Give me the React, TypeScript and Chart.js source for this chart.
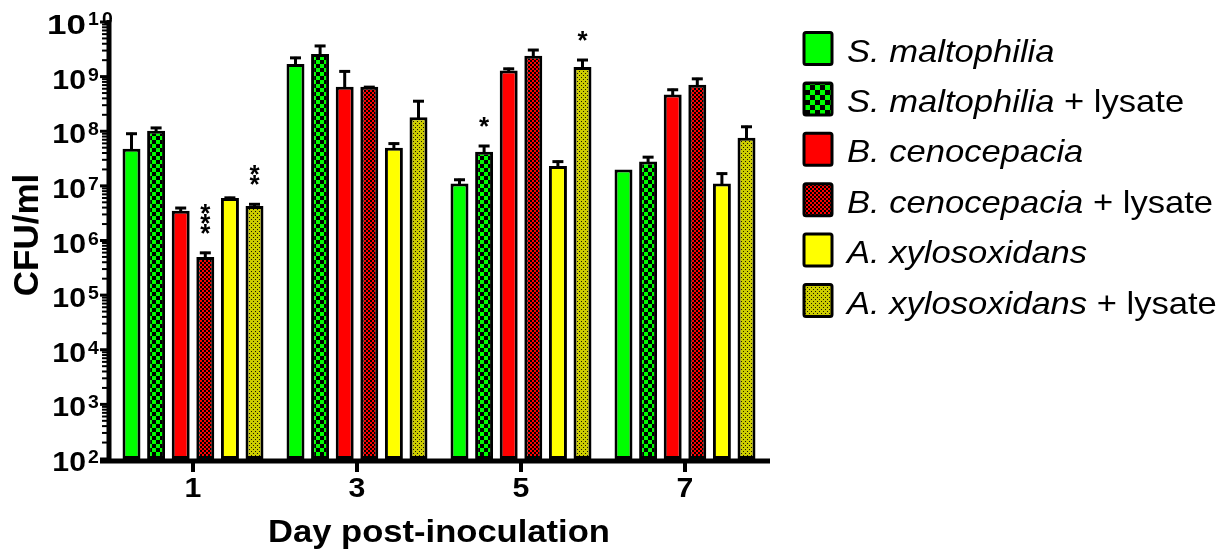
import React, { useEffect, useRef } from "react";
import { Chart, registerables } from "chart.js";

Chart.register(...registerables);

// ---- data ----
const days = ["1", "3", "5", "7"];

const legendItalic = [
  "S. maltophilia",
  "S. maltophilia",
  "B. cenocepacia",
  "B. cenocepacia",
  "A. xylosoxidans",
  "A. xylosoxidans",
];
const legendSuffix = ["", " + lysate", "", " + lysate", "", " + lysate"];

const sMalto = [4.8e7, 1.7e9, 1.1e7, 2.0e7];
const sMaltoSem = [4.6e7, 6.0e8, 2.5e6, 0];
const sMaltoLys = [1.02e8, 2.6e9, 4.2e7, 2.8e7];
const sMaltoLysSem = [1.8e7, 1.2e9, 1.4e7, 7e6];
const bCeno = [3.5e6, 6.5e8, 1.3e9, 4.7e8];
const bCenoSem = [6e5, 6.5e8, 1.5e8, 1.3e8];
const bCenoLys = [5.0e5, 6.5e8, 2.4e9, 7.1e8];
const bCenoLysSem = [1.2e5, 2e7, 8e8, 2.4e8];
const aXylo = [6.0e6, 5.0e7, 2.3e7, 1.1e7];
const aXyloSem = [3e5, 1.2e7, 6e6, 6.5e6];
const aXyloLys = [4.3e6, 1.8e8, 1.5e9, 7.6e7];
const aXyloLysSem = [5e5, 1.9e8, 6e8, 5e7];

const exponents = [2, 3, 4, 5, 6, 7, 8, 9, 10];

// significance marks: series index, day index, number of stars
const starSeries = [3, 5, 1, 5];
const starDay = [0, 0, 2, 2];
const starCount = [3, 2, 1, 1];

const xTitle = "Day post-inoculation";
const yTitle = "CFU/ml";

const means = [sMalto, sMaltoLys, bCeno, bCenoLys, aXylo, aXyloLys];
const sems = [sMaltoSem, sMaltoLysSem, bCenoSem, bCenoLysSem, aXyloSem, aXyloLysSem];

const FONT = '"Liberation Sans", Arial, sans-serif';
const SX = 1.08;

function makePattern(kind: string, cell: number): CanvasPattern | string {
  const c = document.createElement("canvas");
  const g = c.getContext("2d")!;
  if (kind === "greenCheck" || kind === "redCheck") {
    const col = kind === "greenCheck" ? "#00ff00" : "#ff0000";
    c.width = cell * 2;
    c.height = cell * 2;
    g.fillStyle = "#000000";
    g.fillRect(0, 0, cell * 2, cell * 2);
    g.fillStyle = col;
    g.fillRect(0, 0, cell, cell);
    g.fillRect(cell, cell, cell, cell);
  } else {
    c.width = 4;
    c.height = 4;
    g.fillStyle = "#cccc00";
    g.fillRect(0, 0, 4, 4);
    g.fillStyle = "#1a1a00";
    g.fillRect(1, 1, 1, 1);
    g.fillRect(3, 3, 1, 1);
  }
  const p = document.createElement("canvas").getContext("2d")!.createPattern(c, "repeat");
  return p || "#888";
}

function drawText(
  ctx: CanvasRenderingContext2D,
  text: string,
  x: number,
  y: number,
  font: string,
  align: CanvasTextAlign,
  sx = SX
) {
  ctx.save();
  ctx.translate(x, y);
  ctx.scale(sx, 1);
  ctx.font = font;
  ctx.textAlign = align;
  ctx.textBaseline = "alphabetic";
  ctx.fillStyle = "#000";
  ctx.fillText(text, 0, 0);
  ctx.restore();
}

export default function App() {
  const ref = useRef<HTMLCanvasElement | null>(null);

  useEffect(() => {
    document.body.style.margin = "0";
    const canvas = ref.current!;
    const fills = [
      "#00ff00",
      makePattern("greenCheck", 4),
      "#ff0000",
      makePattern("redCheck", 2),
      "#ffff00",
      makePattern("khaki", 0),
    ];
    const legendFills = [
      "#00ff00",
      makePattern("greenCheck", 5),
      "#ff0000",
      makePattern("redCheck", 2),
      "#ffff00",
      makePattern("khaki", 0),
    ];

    const custom = {
      id: "custom",
      afterDatasetsDraw(chart: any) {
        const ctx: CanvasRenderingContext2D = chart.ctx;
        const xs = chart.scales.x;
        const ys = chart.scales.y;
        const area = chart.chartArea;
        ctx.save();
        ctx.strokeStyle = "#000";
        ctx.fillStyle = "#000";

        // error bars
        const errTop: number[][] = [];
        chart.data.datasets.forEach((_ds: any, di: number) => {
          const meta = chart.getDatasetMeta(di);
          errTop[di] = [];
          meta.data.forEach((bar: any, i: number) => {
            const sem = sems[di][i];
            const top = ys.getPixelForValue(means[di][i] + sem);
            errTop[di][i] = top;
            if (!sem) return;
            ctx.lineWidth = 3;
            ctx.lineCap = "butt";
            ctx.beginPath();
            ctx.moveTo(bar.x, bar.y + 1);
            ctx.lineTo(bar.x, top);
            ctx.stroke();
            ctx.beginPath();
            ctx.moveTo(bar.x - 5.5, top + 1);
            ctx.lineTo(bar.x + 5.5, top + 1);
            ctx.stroke();
          });
        });

        // significance stars
        ctx.font = "bold 26px " + FONT;
        const m = ctx.measureText("*");
        const asc = m.actualBoundingBoxAscent;
        const desc = m.actualBoundingBoxDescent;
        starSeries.forEach((si, k) => {
          const bar = chart.getDatasetMeta(si).data[starDay[k]];
          const t = errTop[si][starDay[k]];
          for (let j = 0; j < starCount[k]; j++) {
            const cy = t - 18 - 5 - 10 * j;
            const base = cy + (asc - desc) / 2;
            ctx.textAlign = "center";
            ctx.textBaseline = "alphabetic";
            ctx.fillText("*", bar.x, base);
          }
        });

        // y axis
        const axX = area.left - 2;
        ctx.lineWidth = 5;
        ctx.beginPath();
        ctx.moveTo(axX, area.top - 2);
        ctx.lineTo(axX, area.bottom + 4);
        ctx.stroke();
        // minor ticks
        ctx.lineWidth = 2;
        for (let e = 2; e < 10; e++) {
          for (let mm = 2; mm <= 9; mm++) {
            const py = ys.getPixelForValue(mm * Math.pow(10, e));
            ctx.beginPath();
            ctx.moveTo(axX - 7, py);
            ctx.lineTo(axX, py);
            ctx.stroke();
          }
        }
        // major ticks + labels
        exponents.forEach((e) => {
          const py = ys.getPixelForValue(Math.pow(10, e));
          ctx.lineWidth = 3;
          ctx.beginPath();
          ctx.moveTo(axX - 9, py);
          ctx.lineTo(axX, py);
          ctx.stroke();
          if (e === 10) {
            drawText(ctx, "10", 86, py + 12, "bold 28px " + FONT, "right", 1.25);
            ctx.save();
            (ctx as any).letterSpacing = "3px";
            drawText(ctx, String(e), 88, py + 3, "bold 18px " + FONT, "left");
            ctx.restore();
          } else {
            drawText(ctx, "10", 86, py + 12, "bold 28px " + FONT, "right");
            drawText(ctx, String(e), 88, py + 4, "bold 18px " + FONT, "left");
          }
        });

        // x axis
        const axY = area.bottom + 2;
        ctx.lineWidth = 5;
        ctx.beginPath();
        ctx.moveTo(area.left - 11, axY);
        ctx.lineTo(area.right + 3, axY);
        ctx.stroke();
        days.forEach((d, i) => {
          const px = xs.getPixelForValue(i);
          ctx.lineWidth = 4;
          ctx.beginPath();
          ctx.moveTo(px, axY);
          ctx.lineTo(px, axY + 11);
          ctx.stroke();
          drawText(ctx, d, px, 497, "bold 28px " + FONT, "center");
        });

        // axis titles
        drawText(ctx, xTitle, (area.left + area.right) / 2, 542, "bold 32px " + FONT, "center");
        ctx.save();
        ctx.translate(38, 235);
        ctx.rotate(-Math.PI / 2);
        ctx.font = "bold 35px " + FONT;
        ctx.textAlign = "center";
        ctx.textBaseline = "alphabetic";
        ctx.fillText(yTitle, 0, 0);
        ctx.restore();

        // legend
        const rowY0 = 48.5;
        const rowStep = 50.4;
        legendItalic.forEach((lab, i) => {
          const cy = rowY0 + rowStep * i;
          const bx = 804, bw = 28, bh = 32;
          ctx.fillStyle = legendFills[i] as any;
          ctx.fillRect(bx, cy - bh / 2, bw, bh);
          ctx.lineWidth = 3;
          ctx.strokeStyle = "#000";
          ctx.beginPath();
          (ctx as any).roundRect(bx, cy - bh / 2, bw, bh, 2);
          ctx.stroke();
          ctx.fillStyle = "#000";
          const tx = 847;
          const fi = "italic 32px " + FONT;
          drawText(ctx, lab, tx, cy + 13, fi, "left");
          if (legendSuffix[i]) {
            ctx.font = fi;
            const w = ctx.measureText(lab).width * SX;
            drawText(ctx, legendSuffix[i], tx + w, cy + 13, "32px " + FONT, "left");
          }
        });

        ctx.restore();
      },
    };

    const chart = new Chart(canvas, {
      type: "bar",
      data: {
        labels: days,
        datasets: means.map((vals, i) => ({
          label: legendItalic[i] + legendSuffix[i],
          data: vals,
          backgroundColor: fills[i] as any,
          borderColor: "#000000",
          borderWidth: 3,
          borderSkipped: false,
          categoryPercentage: 0.9,
          barPercentage: 0.73,
        })),
      },
      options: {
        responsive: false,
        animation: false,
        devicePixelRatio: 1,
        layout: { padding: { left: 111, top: 22, right: 463, bottom: 91 } },
        scales: {
          x: { type: "category", display: false },
          y: { type: "logarithmic", min: 100, max: 1e10, display: false },
        },
        plugins: {
          legend: { display: false },
          tooltip: { enabled: false },
        },
      },
      plugins: [custom],
    });
    return () => chart.destroy();
  }, []);

  return (
    <canvas
      ref={ref}
      width={1230}
      height={550}
      style={{ display: "block", width: 1230, height: 550, background: "#fff" }}
    />
  );
}
